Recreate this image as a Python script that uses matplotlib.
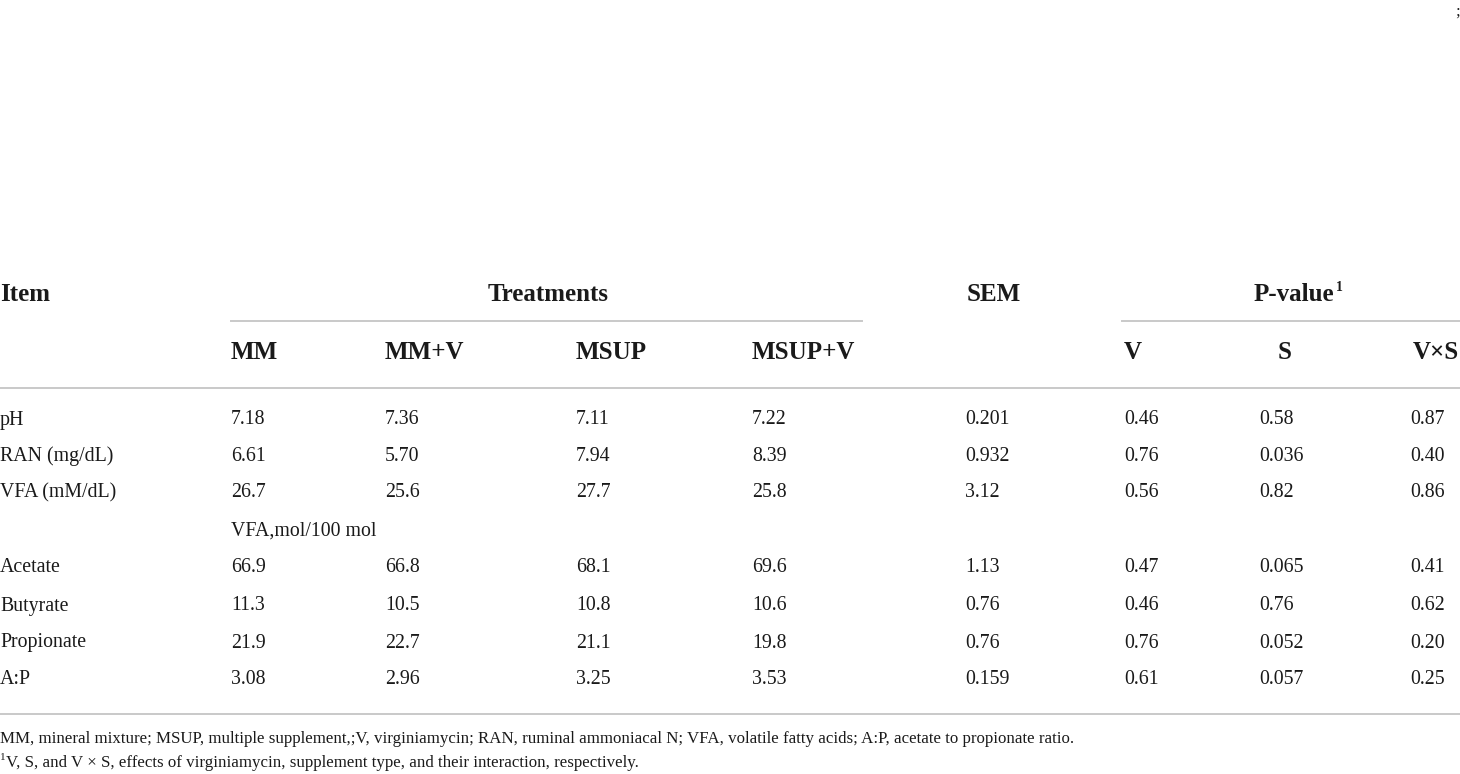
import matplotlib
matplotlib.use("Agg")
import matplotlib.pyplot as plt
from matplotlib.lines import Line2D

W, H = 1460, 774
items = ["pH", "RAN (mg/dL)", "VFA (mM/dL)", "", "Acetate", "Butyrate", "Propionate", "A:P"]
mm = ["7.18", "6.61", "26.7", "", "66.9", "11.3", "21.9", "3.08"]
mm_v = ["7.36", "5.70", "25.6", "", "66.8", "10.5", "22.7", "2.96"]
msup = ["7.11", "7.94", "27.7", "", "68.1", "10.8", "21.1", "3.25"]
msup_v = ["7.22", "8.39", "25.8", "", "69.6", "10.6", "19.8", "3.53"]
sem = ["0.201", "0.932", "3.12", "", "1.13", "0.76", "0.76", "0.159"]
p_v = ["0.46", "0.76", "0.56", "", "0.47", "0.46", "0.76", "0.61"]
p_s = ["0.58", "0.036", "0.82", "", "0.065", "0.76", "0.052", "0.057"]
p_vs = ["0.87", "0.40", "0.86", "", "0.41", "0.62", "0.20", "0.25"]
subheading = "VFA,mol/100 mol"
treat_labels = ["MM", "MM+V", "MSUP", "MSUP+V"]
p_labels = ["V", "S", "V×S"]
foot1 = "MM, mineral mixture; MSUP, multiple supplement,;V, virginiamycin; RAN, ruminal ammoniacal N; VFA, volatile fatty acids; A:P, acetate to propionate ratio."
foot2 = "V, S, and V × S, effects of virginiamycin, supplement type, and their interaction, respectively."

FONT = "Liberation Serif"
fig = plt.figure(figsize=(W / 100, H / 100), dpi=100)
fig.patch.set_facecolor("white")

def tx(x, y, s, size=14, weight="normal", ha="left", va="center"):
    return fig.text(x / W, 1 - y / H, s, fontsize=size, fontweight=weight, ha=ha, va=va,
                    family=FONT, color="#1a1a1a")

def hline(x0, x1, y, lw=1.4):
    fig.add_artist(Line2D([x0 / W, x1 / W], [1 - y / H, 1 - y / H], color="#c9c9c9",
                          lw=lw, transform=fig.transFigure))

# corner mark
tx(1457, 12, ";", size=12, ha="center")

HS = 18
tx(0, 295, "Item", size=HS, weight="bold")
tx(548, 295, "Treatments", size=HS, weight="bold", ha="center")
tx(994, 295, "SEM", size=HS, weight="bold", ha="center")
pv = tx(1294, 295, "P-value", size=HS, weight="bold", ha="center")
fig.canvas.draw()
bb = pv.get_window_extent()
tx(bb.x1 + 2, 287, "1", size=10, weight="bold")
hline(231, 862, 321)
hline(1122, 1460, 321)

tcols = [231, 385, 576, 752]
for x, lab in zip(tcols, treat_labels):
    tx(x, 352, lab, size=HS, weight="bold")
tx(1124, 352, p_labels[0], size=HS, weight="bold")
tx(1285, 352, p_labels[1], size=HS, weight="bold", ha="center")
tx(1459, 352, p_labels[2], size=HS, weight="bold", ha="right")
hline(0, 1460, 388)

row_y = [420, 456, 493, 531, 568, 606, 643, 680]
cols = [(0, items), (231, mm), (385, mm_v), (576, msup), (752, msup_v),
        (965, sem), (1124, p_v), (1259, p_s), (1410, p_vs)]
DS = 14.3
for i, y in enumerate(row_y):
    for x, vals in cols:
        if vals[i]:
            tx(x, y, vals[i], size=DS)
tx(231, row_y[3], subheading, size=DS)
hline(0, 1460, 714)

tx(0, 739, foot1, size=12.2)
tx(0, 757, "1", size=8)
tx(6, 763, foot2, size=12.2)

fig.savefig("out.png", dpi=100, facecolor="white")
